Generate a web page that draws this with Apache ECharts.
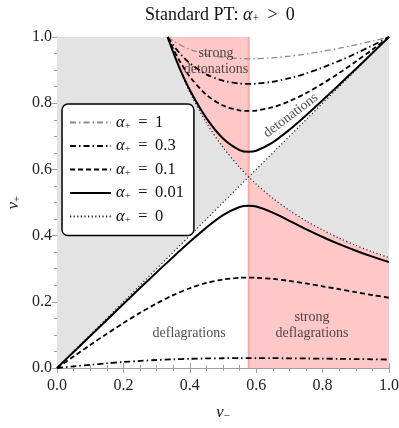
<!DOCTYPE html>
<html>
<head>
<meta charset="utf-8">
<script src="https://cdn.jsdelivr.net/npm/echarts@6/dist/echarts.min.js"></script>
<style>
  html, body { margin: 0; padding: 0; background: #fff; }
  #Charts { width: 399px; height: 428px; }
</style>
</head>
<body>
<div id="Charts"></div>
<script>
var cs = 0.5774

// v- grid for the deflagration branch
var vDef = [0, 0.05, 0.1, 0.15, 0.2, 0.25, 0.3, 0.35, 0.4, 0.45, 0.5, 0.55, 0.5774, 0.6, 0.65, 0.7, 0.75, 0.8, 0.85, 0.9, 0.95, 1.0]
var def001 = [0, 0.0485, 0.0969, 0.1453, 0.1935, 0.2414, 0.2889, 0.3356, 0.3811, 0.4241, 0.4616, 0.4863, 0.4902, 0.4877, 0.4696, 0.4448, 0.4195, 0.3958, 0.3741, 0.3544, 0.3364, 0.3201]
var def01 = [0, 0.0349, 0.0695, 0.1033, 0.1359, 0.1667, 0.1950, 0.2201, 0.2410, 0.2570, 0.2674, 0.2725, 0.2732, 0.2727, 0.2692, 0.2631, 0.2554, 0.2469, 0.2380, 0.2291, 0.2205, 0.2121]
var def03 = [0, 0.0050, 0.0097, 0.0142, 0.0181, 0.0214, 0.0242, 0.0263, 0.0278, 0.0289, 0.0295, 0.0298, 0.0299, 0.0299, 0.0297, 0.0293, 0.0288, 0.0283, 0.0276, 0.0270, 0.0263, 0.0256]

// v- grid for the detonation branch
var vDet = [0.3333, 0.34, 0.35, 0.37, 0.4, 0.45, 0.5, 0.55, 0.5774, 0.6, 0.65, 0.7, 0.75, 0.8, 0.85, 0.9, 0.95, 1.0]
var det00 = [1.0, 0.9804, 0.9524, 0.9009, 0.8333, 0.7407, 0.6667, 0.6061, 0.5773, 0.5556, 0.5128, 0.4762, 0.4444, 0.4167, 0.3922, 0.3704, 0.3509, 0.3333]
var det001 = [1.0, 0.9810, 0.9539, 0.9043, 0.8400, 0.7549, 0.6935, 0.6584, 0.6531, 0.6564, 0.6817, 0.7198, 0.7631, 0.8088, 0.8558, 0.9035, 0.9516, 1.0]
var det01 = [1.0, 0.9850, 0.9639, 0.9264, 0.8802, 0.8255, 0.7932, 0.7785, 0.7766, 0.7778, 0.7879, 0.8061, 0.8304, 0.8592, 0.8912, 0.9258, 0.9622, 1.0]
var det03 = [1.0, 0.9898, 0.9756, 0.9506, 0.9209, 0.8871, 0.8679, 0.8594, 0.8584, 0.8590, 0.8648, 0.8755, 0.8900, 0.9077, 0.9279, 0.9502, 0.9744, 1.0]
var det1 = [1.0, 0.9952, 0.9884, 0.9767, 0.9629, 0.9473, 0.9385, 0.9347, 0.9342, 0.9345, 0.9371, 0.9420, 0.9486, 0.9567, 0.9661, 0.9765, 0.9879, 1.0]

var diag = [[0, 0], [1, 1]]

var names = ['a1', 'a03', 'a01', 'a001', 'a0']
var legendText = {
	a1: '{i|α}{s|+}{n| \u2009=\u2009 1}',
	a03: '{i|α}{s|+}{n| \u2009=\u2009 0.3}',
	a01: '{i|α}{s|+}{n| \u2009=\u2009 0.1}',
	a001: '{i|α}{s|+}{n| \u2009=\u2009 0.01}',
	a0: '{i|α}{s|+}{n| \u2009=\u2009 0}'
}

var notes = [
	{ text: 'strong\ndetonations', x: 0.479, y: 0.927, rotate: 0 },
	{ text: 'detonations', x: 0.704, y: 0.763, rotate: 37 },
	{ text: 'deflagrations', x: 0.398, y: 0.106, rotate: 0 },
	{ text: 'strong\ndeflagrations', x: 0.768, y: 0.128, rotate: 0 }
]

function zip(xs, ys) {
	let out = []
	for (let i = 0; i < xs.length; i++) out.push([xs[i], ys[i]])
	return out
}

var hyp = zip(vDet, det00)
var iCs = vDet.indexOf(cs)
var hypLeft = hyp.slice(0, iCs + 1)      // 1/3 .. cs
var hypRight = hyp.slice(iCs)            // cs .. 1

// regions
var grayLeft = [[0, 0], [cs, cs]].concat(hypLeft.slice().reverse(), [[0, 1]])
var grayRight = [[cs, cs], [1, 1]].concat(hypRight.slice().reverse())
var pinkTop = [[cs, 1]].concat([[cs, det00[iCs]]], hypLeft.slice().reverse(), [[vDet[0], 1]])
var pinkBot = [[cs, 0], [1, 0]].concat(hypRight.slice().reverse())

function region(name, pts, color) {
	return {
		name: name,
		type: 'custom',
		silent: true,
		z: 1,
		data: pts,
		renderItem: function(params, api) {
			if (params.dataIndex !== 0) return
			return {
				type: 'polygon',
				shape: { points: pts.map(function(p) { return api.coord(p) }) },
				style: { fill: color }
			}
		}
	}
}

function curve(name, data, style) {
	return {
		name: name,
		type: 'line',
		data: data,
		smooth: 0.3,
		symbol: 'none',
		z: 5,
		color: style.color,
		lineStyle: style
	}
}

var sA1 = { color: '#8a8a8a', width: 1.3, type: [6, 3, 1.5, 3] }
var sA03 = { color: '#000', width: 1.8, type: [6, 3, 1.5, 3] }
var sA01 = { color: '#000', width: 1.8, type: [5, 3] }
var sA001 = { color: '#000', width: 2 }
var sA0 = { color: '#222', width: 1.2, type: [1.2, 2.4] }

var serif = "'Liberation Serif', 'DejaVu Serif', serif"
var richMath = {
	i: { fontFamily: serif, fontStyle: 'italic', fontSize: 16.5, color: '#111', fontWeight: 'normal' },
	s: { fontFamily: serif, fontSize: 11, color: '#111', verticalAlign: 'bottom', lineHeight: 18, fontWeight: 'normal' },
	n: { fontFamily: serif, fontSize: 16.5, color: '#111', fontWeight: 'normal' }
}
var richTitle = {
	i: { fontFamily: serif, fontStyle: 'italic', fontSize: 18, color: '#111', fontWeight: 'normal' },
	s: { fontFamily: serif, fontSize: 12, color: '#111', verticalAlign: 'bottom', lineHeight: 20, fontWeight: 'normal' },
	n: { fontFamily: serif, fontSize: 18, color: '#111', fontWeight: 'normal' }
}

function axisCommon(showLabel) {
	return {
		type: 'value',
		min: 0,
		max: 1,
		interval: 0.2,
		splitLine: { show: false },
		axisLine: { show: true, lineStyle: { color: '#a0a0a0', width: 1 } },
		axisTick: { show: true, inside: true, length: 5, lineStyle: { color: '#a0a0a0' } },
		minorTick: { show: true, splitNumber: 4, length: 3, lineStyle: { color: '#a0a0a0' } },
		axisLabel: {
			show: showLabel,
			fontFamily: serif,
			fontSize: 16,
			color: '#222',
			margin: 9,
			formatter: function(v) { return v.toFixed(1) }
		}
	}
}

var xBottom = axisCommon(true)
xBottom.position = 'bottom'
xBottom.axisLabel.margin = 10
xBottom.name = '{i|v}{s|−}'
xBottom.nameLocation = 'middle'
xBottom.nameGap = 36
xBottom.nameMoveOverlap = false
xBottom.nameTextStyle = { rich: richMath }
var xTop = axisCommon(false)
xTop.position = 'top'

var yLeft = axisCommon(true)
yLeft.position = 'left'
yLeft.axisLabel.margin = 5
yLeft.name = '{i|v}{s|+}'
yLeft.nameLocation = 'middle'
yLeft.nameGap = 34
yLeft.nameRotate = 90
yLeft.nameMoveOverlap = false
yLeft.nameTextStyle = { rich: richMath }
var yRight = axisCommon(false)
yRight.position = 'right'

var chart = echarts.init(document.getElementById("Charts"))

var option = {
	backgroundColor: '#FFFFFF',
	animation: false,
	title: {
		text: '{n|Standard PT: }{i|α}{s|+}{n| \u2009>\u2009 0}',
		left: 140,
		top: 0,
		textStyle: { rich: richTitle, fontWeight: 'normal' }
	},
	grid: { left: 57, right: 10, top: 37, bottom: 60, outerBoundsMode: 'none', containLabel: false },
	legend: {
		data: names,
		orient: 'vertical',
		left: 62,
		top: 104,
		padding: [10, 10, 10, 7],
		itemWidth: 41,
		itemHeight: 14,
		itemGap: 6,
		backgroundColor: '#fff',
		borderColor: '#000',
		borderWidth: 1.5,
		borderRadius: 6,
		itemStyle: { opacity: 0 },
		textStyle: { rich: richMath },
		formatter: function(name) { return legendText[name] }
	},
	xAxis: [xBottom, xTop],
	yAxis: [yLeft, yRight],
	series: [
		region('grayLeft', grayLeft, '#e3e3e3'),
		region('grayRight', grayRight, '#e3e3e3'),
		region('pinkTop', pinkTop, '#ffc8c8'),
		region('pinkBot', pinkBot, '#ffc8c8'),
		{
			name: 'csLine',
			type: 'line',
			data: [[cs, 0], [cs, 1]],
			symbol: 'none',
			z: 2,
			silent: true,
			lineStyle: { color: '#f8a9a9', width: 2 }
		},
		curve('a0', diag, sA0),
		curve('a0', hyp, sA0),
		curve('a1', zip(vDet, det1), sA1),
		curve('a03', zip(vDet, det03), sA03),
		curve('a03', zip(vDef, def03), sA03),
		curve('a01', zip(vDet, det01), sA01),
		curve('a01', zip(vDef, def01), sA01),
		curve('a001', zip(vDet, det001), sA001),
		curve('a001', zip(vDef, def001), sA001),
		{
			name: 'notes',
			type: 'scatter',
			symbolSize: 0,
			silent: true,
			z: 6,
			data: notes.map(function(n) {
				return {
					value: [n.x, n.y],
					label: {
						show: true,
						position: 'inside',
						formatter: n.text,
						rotate: n.rotate,
						fontFamily: serif,
						fontSize: 14,
						lineHeight: 16,
						color: '#222'
					}
				}
			})
		}
	]
}

chart.setOption(option)
</script>
</body>
</html>
